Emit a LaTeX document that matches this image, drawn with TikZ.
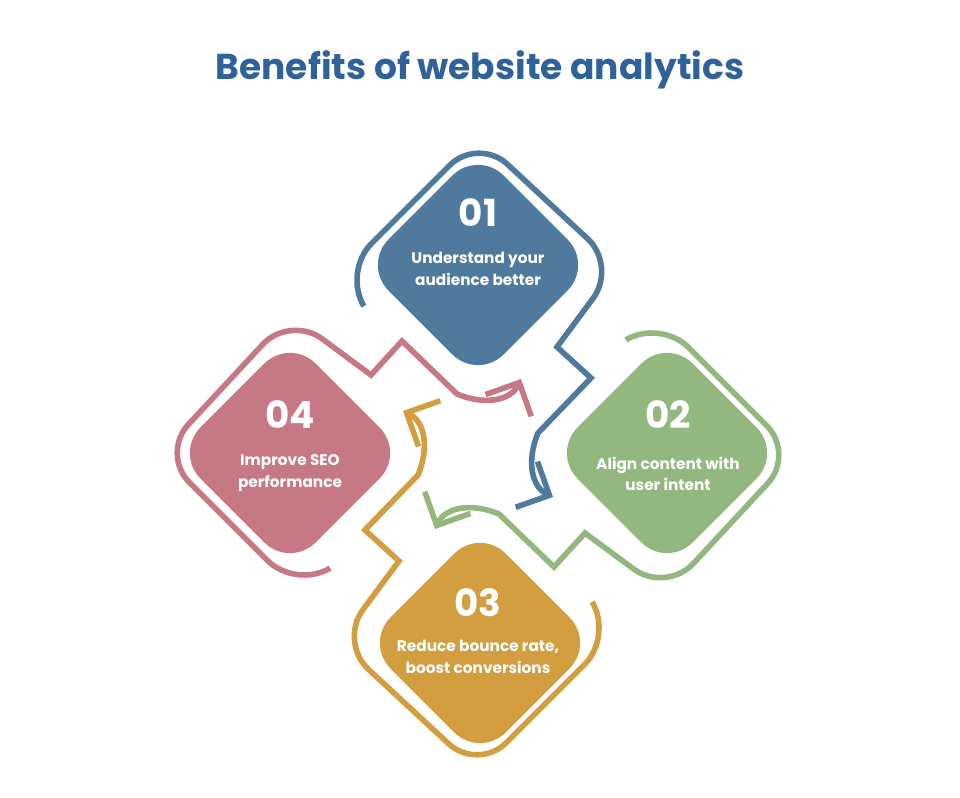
\documentclass[tikz,border=0pt]{standalone}
\usepackage{fontspec}
\setmainfont{Poppins}
\usetikzlibrary{arrows.meta}
\definecolor{stepblue}{HTML}{4F7A9D}
\definecolor{stepgreen}{HTML}{93B87F}
\definecolor{stepgold}{HTML}{D29E3F}
\definecolor{steppink}{HTML}{C67884}
\definecolor{titleblue}{HTML}{2F619A}
\tikzset{
  tile/.style={rectangle, rotate=45, minimum size=122pt, rounded corners=27pt, inner sep=0pt},
  loop/.style={line width=4.2pt, line cap=round, line join=miter,
    -{Straight Barb[length={19pt 0}, width={38pt 0}, line width=4.2pt]}},
  numtxt/.style={text=white, font=\bfseries\fontsize{28}{30}\selectfont},
  labtxt/.style={text=white, font=\bfseries\fontsize{11.5}{16}\selectfont, align=center}
}
\newcommand{\loopline}[2]{%
  \begin{scope}[rotate around={#1:(478,454)}]
    \draw[loop, #2, rounded corners=30] (362,303) -- (343,272) -- (478,137) -- (617,266)
      [sharp corners] -- (557,347) -- (591,378) -- (538,433)
      .. controls (526,462) and (532,487) .. (553,497);
  \end{scope}}
\begin{document}
\begin{tikzpicture}[x=0.75pt, y=-0.75pt]
  \useasboundingbox (0,0) rectangle (960,798);
  % title
  \node[text=titleblue, font=\bfseries\fontsize{27}{30}\selectfont] (title) at (480,70) {Benefits of website analytics};

  % outlines with arrows
  \loopline{0}{stepblue}
  \loopline{-90}{stepgreen}
  \loopline{-180}{stepgold}
  \loopline{-270}{steppink}

  % filled tiles
  \node[tile, fill=stepblue] (t1) at (478,265) {};
  \node[tile, fill=stepgreen] (t2) at (667,453) {};
  \node[tile, fill=stepgold] (t3) at (480,643) {};
  \node[tile, fill=steppink] (t4) at (290,453) {};

  \node[numtxt] (n1) at (478,213) {01};
  \node[labtxt] (l1) at (478,269) {Understand your\\audience better};
  \node[numtxt] (n2) at (668,415) {02};
  \node[labtxt] (l2) at (668,474) {Align content with\\user intent};
  \node[numtxt] (n3) at (478,603) {03};
  \node[labtxt] (l3) at (478,657) {Reduce bounce rate,\\boost conversions};
  \node[numtxt] (n4) at (290,415) {04};
  \node[labtxt] (l4) at (290,473) {Improve SEO\\performance};
\end{tikzpicture}
\end{document}
